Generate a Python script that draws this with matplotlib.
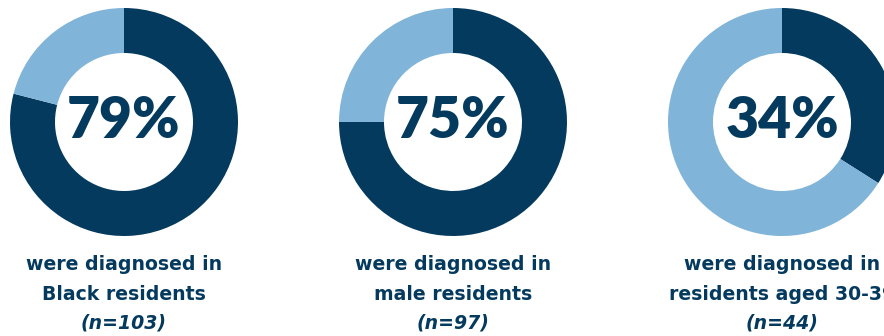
import matplotlib
matplotlib.use("Agg")
import matplotlib.pyplot as plt

# Data
percentages = [79, 75, 34]
percent_labels = ["79%", "75%", "34%"]
line1 = ["were diagnosed in", "were diagnosed in", "were diagnosed in"]
line2 = ["Black residents", "male residents", "residents aged 30-39"]
n_labels = ["(n=103)", "(n=97)", "(n=44)"]

DARK = "#053a5f"
LIGHT = "#80b4d9"

W, H = 884, 336
fig = plt.figure(figsize=(W / 100, H / 100), dpi=100)
ax = fig.add_axes([0, 0, 1, 1])

centers_x = [124, 453, 782]
cy = H - 122
R = 114
ring = 45

body = dict(ha="center", va="center", fontsize=13.6, fontweight="bold",
            family=["DejaVu Sans"], color=DARK)

for i, p in enumerate(percentages):
    cx = centers_x[i]
    ax.pie([p, 100 - p], colors=[DARK, LIGHT], center=(cx, cy), radius=R,
           startangle=90, counterclock=False,
           wedgeprops=dict(width=ring, linewidth=0))
    ax.text(cx, cy + 1, percent_labels[i], ha="center", va="center",
            fontsize=41, fontweight="heavy", family=["Lato", "DejaVu Sans"],
            color=DARK)
    ax.text(cx, H - 264, line1[i], **body)
    ax.text(cx, H - 294, line2[i], **body)
    ax.text(cx, H - 323, n_labels[i], fontstyle="italic", **body)

ax.set_xlim(0, W)
ax.set_ylim(0, H)
ax.set_aspect("equal")
ax.axis("off")

fig.savefig("out.png", dpi=100, facecolor="white")
